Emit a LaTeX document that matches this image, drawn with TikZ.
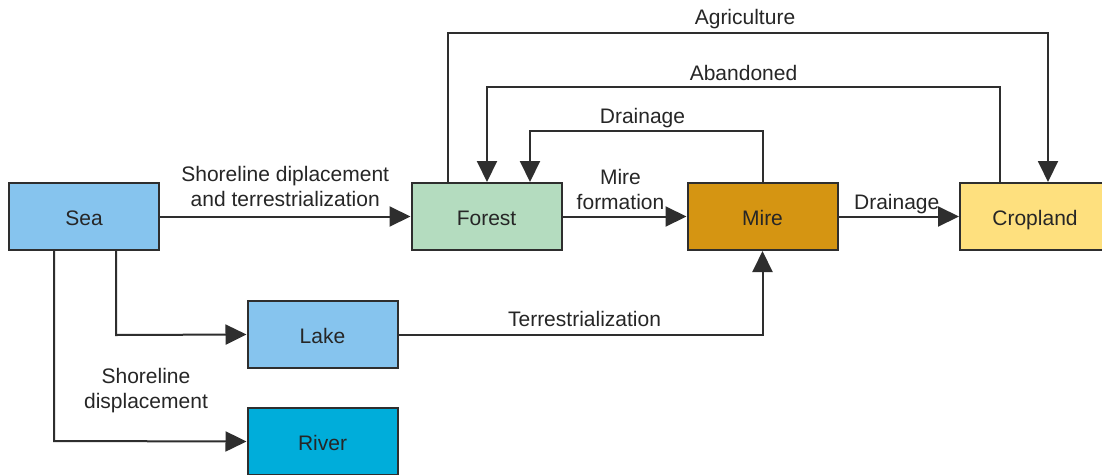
\documentclass[tikz,border=0pt]{standalone}
\usepackage{fontspec}
\setmainfont{Liberation Sans}
\usetikzlibrary{arrows.meta}
\definecolor{seacol}{HTML}{86C4EE}
\definecolor{forestcol}{HTML}{B4DCBF}
\definecolor{mirecol}{HTML}{D59512}
\definecolor{cropcol}{HTML}{FEE07E}
\definecolor{rivercol}{HTML}{00ADDA}
\definecolor{linecol}{HTML}{2E2E2E}
\tikzset{
  box/.style={draw=linecol, line width=2pt, minimum width=150pt, minimum height=67pt, inner sep=0pt, text height=17pt, text depth=0pt, font=\fontsize{21}{25}\selectfont, text=black!85},
  arr/.style={draw=linecol, line width=2pt, -{Triangle[length=21pt,width=20pt]}},
  lbl/.style={font=\fontsize{21}{25}\selectfont, text=black!85, align=center, inner sep=2pt}
}
\begin{document}
\begin{tikzpicture}[x=1pt,y=-1pt]
\useasboundingbox (0,0) rectangle (1102,474);
\clip (0,0) rectangle (1102,474);
\fill[white] (0,0) rectangle (1102,474);
\node[box, fill=seacol] (sea) at (84,216.5) {Sea};
\node[box, fill=forestcol] (forest) at (486.5,216.5) {Forest};
\node[box, fill=mirecol] (mire) at (762.5,216.5) {Mire};
\node[box, fill=cropcol] (crop) at (1035,216.5) {Cropland};
\node[box, fill=seacol] (lake) at (322.5,334.5) {Lake};
\node[box, fill=rivercol] (river) at (322.5,441.5) {River};
% coordinates
\coordinate (ag1) at (448,33);
\coordinate (ag2) at (1048,33);
\coordinate (ab1) at (1000,87);
\coordinate (ab2) at (487,87);
\coordinate (dr1) at (763,131);
\coordinate (dr2) at (530,131);
\coordinate (sl) at (116,335);
\coordinate (sr) at (54,441);
% connectors
\draw[arr] (sea.east) -- node[lbl, above=7pt] {Shoreline diplacement\\and terrestrialization} (forest.west);
\draw[arr] (forest.east) -- node[lbl, above=4pt, xshift=-4pt] {Mire\\formation} (mire.west);
\draw[arr] (mire.east) -- node[lbl, above=0pt, xshift=-2pt] {Drainage} (crop.west);
\draw[arr] (forest.north -| ag1) -- (ag1) -- node[lbl, above=1pt, xshift=-3pt] {Agriculture} (ag2) -- (crop.north -| ag2);
\draw[arr] (crop.north -| ab1) -- (ab1) -- node[lbl, above=3pt] {Abandoned} (ab2) -- (forest.north -| ab2);
\draw[arr] (mire.north -| dr1) -- (dr1) -- node[lbl, above=0pt, xshift=-4pt] {Drainage} (dr2) -- (forest.north -| dr2);
\draw[arr] (sea.south -| sl) -- (sl) -- (lake.west);
\draw[arr] (sea.south -| sr) -- (sr) -- (river.west);
\draw[arr] (lake.east) -- node[lbl, above=5pt, xshift=4pt] {Terrestrialization} (lake.east -| mire.south) -- (mire.south);
\node[lbl] (sdl) at (146,391) {Shoreline\\displacement};
\end{tikzpicture}
\end{document}
